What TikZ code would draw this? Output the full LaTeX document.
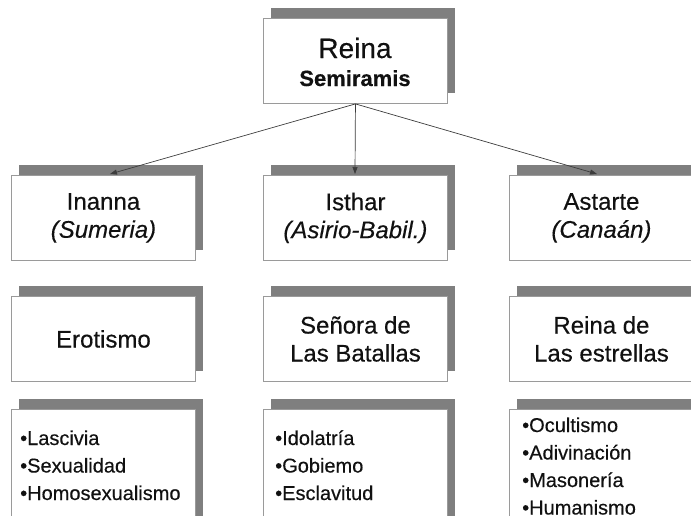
\documentclass[tikz,border=0pt]{standalone}
\usepackage{fontspec}
\setmainfont{Liberation Sans}[FakeBold=0.35]
\usetikzlibrary{arrows.meta,shadows}
\definecolor{shadowgray}{HTML}{7F7F7F}
\definecolor{edgegray}{HTML}{9A9A9A}
\definecolor{txt}{HTML}{111111}
\definecolor{arrowgray}{HTML}{3C3C3C}
\begin{document}
\begin{tikzpicture}[x=1pt,y=-1pt,
  card/.style={draw=edgegray, line width=0.9pt, fill=white, minimum width=184pt,
    minimum height=85pt, inner sep=0pt, anchor=north west, align=center, text=txt,
    general shadow={fill=shadowgray, shadow xshift=8pt, shadow yshift=10pt}},
  tallcard/.style={card, minimum height=150pt},
  midtext/.style={font=\fontsize{24}{28}\selectfont},
  item/.style={anchor=base west, inner sep=0pt, text=txt, font=\fontsize{20}{24}\selectfont},
  link/.style={draw=arrowgray, line width=0.7pt, -{Triangle[length=7pt,width=5pt]}}
]
\useasboundingbox (0,0) rectangle (691,515);

% top
\node[card] (top) at (263,18) {};
\node[anchor=base, inner sep=0pt, text=txt, font=\fontsize{28}{30}\selectfont] (topa) at (355,58) {Reina};
\node[anchor=base, inner sep=0pt, text=txt, font=\fontsize{22}{26}\selectfont\bfseries] (topb) at (355,86) {Semiramis};

% level 2
\node[card, midtext] (inanna) at (11,175) {Inanna\\\textit{(Sumeria)}};
\node[card, midtext] (isthar) at (263,175) {Isthar\\\textit{(Asirio-Babil.)}};
\node[card, midtext] (astarte) at (509,175) {Astarte\\\textit{(Canaán)}};

% level 3
\node[card, midtext] (erot) at (11,296) {Erotismo};
\node[card, midtext] (senora) at (263,296) {Señora de\\Las Batallas};
\node[card, midtext] (estrellas) at (509,296) {Reina de\\Las estrellas};

% level 4
\node[tallcard] (l1) at (11,409) {};
\node[tallcard] (l2) at (263,409) {};
\node[tallcard] (l3) at (509,409) {};

\node[item] (l1a) at (20,445) {•Lascivia};
\node[item] (l1b) at (20,472.5) {•Sexualidad};
\node[item] (l1c) at (20,500) {•Homosexualismo};

\node[item] (l2a) at (275,445) {•Idolatría};
\node[item] (l2b) at (275,472.5) {•Gobiemo};
\node[item] (l2c) at (275,500) {•Esclavitud};

\node[item] (l3a) at (522,432) {•Ocultismo};
\node[item] (l3b) at (522,459.5) {•Adivinación};
\node[item] (l3c) at (522,487) {•Masonería};
\node[item] (l3d) at (522,514.5) {•Humanismo};

% connectors
\coordinate (tinanna) at (110,174);
\coordinate (tisthar) at (355,174);
\coordinate (tastarte) at (597,174);
\draw[link] (top.south) -- (tinanna);
\draw[link] (top.south) -- (tisthar);
\draw[link] (top.south) -- (tastarte);
\end{tikzpicture}
\end{document}
